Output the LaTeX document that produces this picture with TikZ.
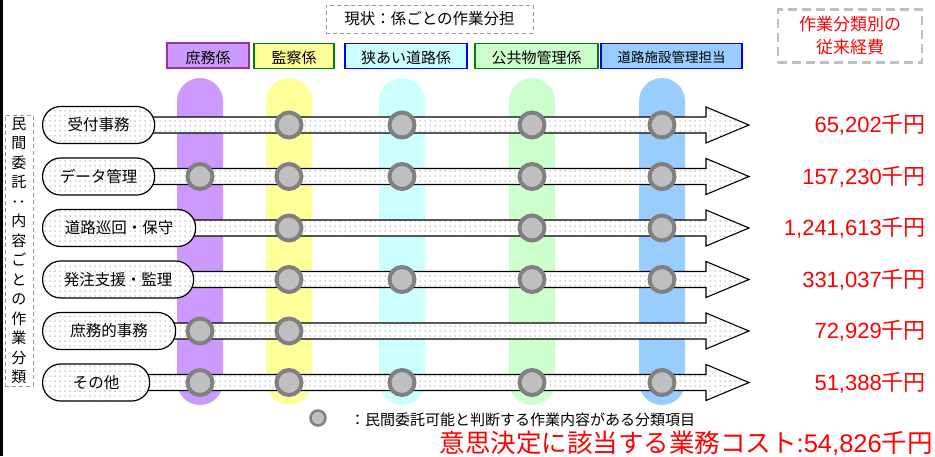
\documentclass[tikz,border=0pt]{standalone}
\usepackage{fontspec}
\usepackage{graphicx}
\setmainfont{Liberation Sans}
\newfontfamily\jp{Noto Sans CJK JP}
\usetikzlibrary{patterns.meta}
\definecolor{cpurple}{HTML}{CC99FF}
\definecolor{cyellow}{HTML}{FFFF99}
\definecolor{ccyan}{HTML}{CCFFFF}
\definecolor{cgreen}{HTML}{CCFFCC}
\definecolor{cblue}{HTML}{99CCFF}
\definecolor{bpurple}{HTML}{993399}
\definecolor{bgreen}{HTML}{008000}
\definecolor{bblue}{HTML}{0000FF}
\definecolor{dotgray}{HTML}{BFBFBF}
\definecolor{dotdark}{HTML}{808080}
\definecolor{boxgray}{HTML}{BFBFBF}
\definecolor{cred}{HTML}{FF0000}
\begin{document}
\begin{tikzpicture}[x=1pt,y=-1pt,
  dotfill/.style={preaction={fill=white}, pattern={Dots[distance=5pt,radius=0.75pt]}, pattern color=black!35},
  lblbox/.style={draw=black, line width=1.2pt, dotfill, rounded corners=18pt, minimum height=37pt, anchor=west, inner sep=0pt, text height=13pt, text depth=2pt, font=\jp\fontsize{15.5}{18}\selectfont},
  arrowbody/.style={draw=black, line width=1.1pt, dotfill, line join=miter},
  dotmark/.style={circle, fill=dotgray, draw=dotdark, line width=4pt, minimum size=25pt, inner sep=0pt},
  hdr/.style={line width=1.1pt, minimum height=25pt, inner sep=0pt, text height=17pt, text depth=2pt, font=\jp\fontsize{15}{18}\selectfont},
  colpill/.style={rounded corners=23pt},
  value/.style={anchor=east, text=cred, font=\fontsize{22}{26}\selectfont, inner sep=0pt}
]
\useasboundingbox (0,0) rectangle (935,456);
\fill[black] (0,0) rectangle (3,456);

% title
\node[draw=gray!80, dash pattern=on 4pt off 3pt, line width=1pt, minimum width=207pt, minimum height=28pt, inner sep=0pt, font=\jp\fontsize{15.5}{18}\selectfont] (title) at (429.5,19) {現状：係ごとの作業分担};

% top right box
\node[draw=boxgray, dash pattern=on 9pt off 5pt, line width=2.5pt, minimum width=144pt, minimum height=53pt, inner sep=0pt, align=center, text=cred, font=\jp\fontsize{17}{23}\selectfont] (costhdr) at (850,36) {作業分類別の\\従来経費};

% headers
\node[hdr, draw=bpurple, fill=cpurple, minimum width=82pt] (h1) at (208,55.5) {庶務係};
\node[hdr, draw=bgreen, fill=cyellow, minimum width=80pt] (h2) at (294,56) {監察係};
\node[hdr, draw=bblue, fill=ccyan, minimum width=122pt] (h3) at (406,56) {狭あい道路係};
\node[hdr, draw=bgreen, fill=cgreen, minimum width=123pt] (h4) at (536.5,56) {公共物管理係};
\node[hdr, draw=bblue, fill=cblue, minimum width=141pt, text height=15pt, font=\jp\fontsize{13.5}{16}\selectfont] (h5) at (671.5,56) {道路施設管理担当};

% column pills
\fill[colpill, cpurple] (177,78) rectangle (223,405);
\fill[colpill, cyellow] (266,78) rectangle (312,405);
\fill[colpill, ccyan] (379,78) rectangle (425,405);
\fill[colpill, cgreen] (509,78) rectangle (555,405);
\fill[colpill, cblue] (639,78) rectangle (685,405);

% vertical label
\node[draw=gray!80, dash pattern=on 4pt off 3pt, line width=0.8pt, minimum width=28pt, minimum height=271pt, inner sep=0pt] (vbox) at (19,250.5) {};
\node[align=center, inner sep=0pt, font=\jp\fontsize{15}{19.5}\selectfont] (vtext) at (19,250.5) {民\\間\\委\\託\\\rotatebox[origin=c]{90}{：}\\内\\容\\ご\\と\\の\\作\\業\\分\\類};

% rows
\foreach \i/\y/\txt/\w/\val/\cols in {
  1/125/受付事務/112/{65,202}/{289,402,532,662},
  2/176.5/データ管理/112/{157,230}/{200,289,402,532,662},
  3/228/道路巡回・保守/153/{1,241,613}/{289,532,662},
  4/279.5/発注支援・監理/151/{331,037}/{289,402,532,662},
  5/331/庶務的事務/133/{72,929}/{200,289},
  6/382.5/その他/107/{51,388}/{200,289,402,532,662}} {
  \coordinate (tip\i) at (749,\y);
  \coordinate (start\i) at (60,\y);
  \path[arrowbody] ([yshift=8pt]start\i) -- (706,\y-8) -- (706,\y-18) -- (tip\i) -- (706,\y+18) -- (706,\y+8) -- ([yshift=-8pt]start\i) -- cycle;
  \node[lblbox, minimum width=\w pt] (lbl\i) at (42,\y) {\txt};
  \foreach \cx in \cols {
    \node[dotmark] (m\i-\cx) at (\cx,\y) {};
  }
  \node[value] (val\i) at (926,\y) {\val{\jp 千円}};
}

% legend
\node[circle, fill=dotgray, draw=dotdark, line width=2.5pt, minimum size=15pt, inner sep=0pt] (legdot) at (318,418) {};
\node[anchor=west, inner sep=0pt, font=\jp\fontsize{15}{17}\selectfont] (legtxt) at (350,420) {：民間委託可能と判断する作業内容がある分類項目};

% bottom cost
\node[anchor=east, inner sep=0pt, text=cred, font=\jp\fontsize{25.5}{28}\selectfont] (total) at (933,443) {意思決定に該当する業務コスト{\rmfamily :54,826}千円};
\end{tikzpicture}
\end{document}
